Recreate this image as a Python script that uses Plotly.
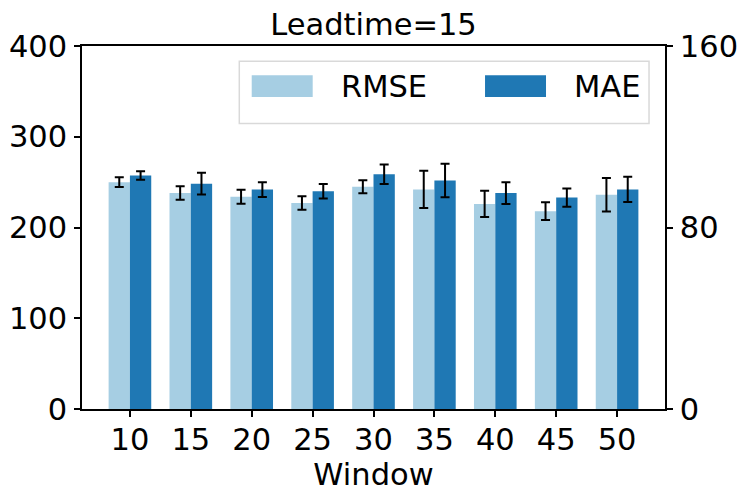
import plotly.graph_objects as go

windows = [10, 15, 20, 25, 30, 35, 40, 45, 50]
rmse = [250, 238, 234, 227, 245, 242, 226, 218, 236]
rmse_err = [5.5, 7.5, 7.7, 7.5, 7.2, 20.4, 14.5, 9.7, 18.5]
mae = [102.9, 99.3, 96.7, 96.0, 103.5, 100.7, 95.2, 93.2, 96.8]
mae_err = [1.9, 4.8, 3.3, 3.2, 4.3, 7.4, 4.8, 4.0, 5.6]

idx = list(range(len(windows)))
FONT = "DejaVu Sans"
FS = 30.5
C_RMSE = "#a6cee3"
C_MAE = "#1f78b4"

fig = go.Figure()
fig.add_trace(go.Bar(
    x=idx, y=rmse, width=0.35, offset=-0.35, name="RMSE",
    marker=dict(color=C_RMSE, line=dict(width=0)),
    error_y=dict(type="data", array=rmse_err, color="black", thickness=2, width=4.5),
    yaxis="y", showlegend=False))
fig.add_trace(go.Bar(
    x=idx, y=mae, width=0.35, offset=0.0, name="MAE",
    marker=dict(color=C_MAE, line=dict(width=0)),
    error_y=dict(type="data", array=mae_err, color="black", thickness=2, width=4.5),
    yaxis="y2", showlegend=False))

# custom legend (matplotlib-style)
shapes = [
    dict(type="rect", xref="paper", yref="paper", x0=0.2698, x1=0.9726, y0=0.7862, y1=0.9579,
         line=dict(color="#d9d9d9", width=1.5), fillcolor="rgba(255,255,255,0.8)", layer="above"),
    dict(type="rect", xref="paper", yref="paper", x0=0.2911, x1=0.3957, y0=0.8595, y1=0.9193,
         line=dict(width=0), fillcolor=C_RMSE, layer="above"),
    dict(type="rect", xref="paper", yref="paper", x0=0.6913, x1=0.7959, y0=0.8595, y1=0.9193,
         line=dict(width=0), fillcolor=C_MAE, layer="above"),
]
annotations = [
    dict(text="RMSE", xref="paper", yref="paper", x=0.4413, y=0.889, xanchor="left", yanchor="middle",
         showarrow=False, font=dict(family=FONT, size=FS, color="black")),
    dict(text="MAE", xref="paper", yref="paper", x=0.84, y=0.889, xanchor="left", yanchor="middle",
         showarrow=False, font=dict(family=FONT, size=FS, color="black")),
]

fig.update_layout(
    width=747, height=499,
    margin=dict(l=82, r=82, t=46, b=90, autoexpand=False),
    paper_bgcolor="white", plot_bgcolor="white",
    barmode="overlay",
    font=dict(family=FONT, size=FS, color="black"),
    title=dict(text="Leadtime=15", x=0.5, xanchor="center", y=0.952, yanchor="middle",
               font=dict(family=FONT, size=FS, color="black")),
    xaxis=dict(
        range=[-0.787, 8.787], tickmode="array", tickvals=idx, ticktext=[str(w) for w in windows],
        showline=True, linecolor="black", linewidth=1.5, mirror=True,
        ticks="outside", ticklen=6, tickwidth=1.5, tickcolor="black", ticklabelstandoff=-3,
        showgrid=False, zeroline=False, automargin=False,
        title=dict(text="Window", font=dict(family=FONT, size=FS), standoff=2),
        tickfont=dict(family=FONT, size=FS),
    ),
    yaxis=dict(
        range=[0, 400], tickvals=[0, 100, 200, 300, 400],
        showline=True, linecolor="black", linewidth=1.5,
        ticks="outside", ticklen=6, tickwidth=1.5, tickcolor="black", ticklabelstandoff=1,
        showgrid=False, zeroline=False, automargin=False, tickfont=dict(family=FONT, size=FS),
    ),
    yaxis2=dict(
        range=[0, 160], tickvals=[0, 80, 160], overlaying="y", side="right",
        showline=True, linecolor="black", linewidth=1.5,
        ticks="outside", ticklen=6, tickwidth=1.5, tickcolor="black", ticklabelstandoff=1,
        showgrid=False, zeroline=False, automargin=False, tickfont=dict(family=FONT, size=FS),
    ),
    shapes=shapes,
    annotations=annotations,
)

fig.write_html("out.html", config={"displayModeBar": False},
               post_script="document.body.style.margin='0';document.body.style.overflow='hidden';")
